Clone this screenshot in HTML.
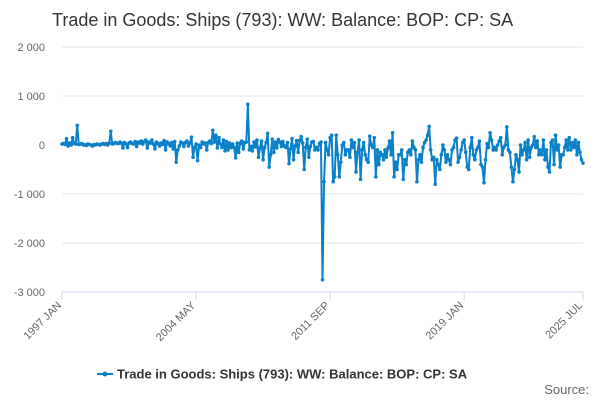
<!DOCTYPE html>
<html><head><meta charset="utf-8"><style>
body{margin:0;background:#fff;font-family:"Liberation Sans",sans-serif}
svg text{font-family:"Liberation Sans",sans-serif}
</style></head><body>
<svg width="600" height="400" id="c">
<text x="52" y="26" font-size="18" fill="#333">Trade in Goods: Ships (793): WW: Balance: BOP: CP: SA</text>
<g id="grid"></g><g id="ax"></g><g id="ser"></g>
<g>
<line x1="97" y1="374" x2="113" y2="374" stroke="#0a80c8" stroke-width="2"/>
<circle cx="105" cy="374" r="2.5" fill="#0a80c8"/>
<text x="117" y="378.5" font-size="13" font-weight="bold" fill="#333">Trade in Goods: Ships (793): WW: Balance: BOP: CP: SA</text>
</g>
<text x="589" y="394" font-size="13" fill="#666" text-anchor="end">Source:</text>
</svg>
<script>
const yTicks=[2000,1000,0,-1000,-2000,-3000];
const yTickLabels=["2 000","1 000","0","-1 000","-2 000","-3 000"];
const xTickIdx=[0,88,176,264,342];
const xTickLabels=["1997 JAN","2004 MAY","2011 SEP","2019 JAN","2025 JUL"];
const values=[
20,30,10,130,-20,40,0,150,30,20,400,10,
20,30,0,10,-10,20,10,0,-20,10,0,20,
10,0,20,30,10,30,0,40,280,20,30,50,
40,30,60,40,-60,50,20,-50,40,60,30,20,
70,-30,60,40,80,20,70,100,-60,60,40,100,
20,-80,60,30,-20,40,10,90,-100,60,30,-20,
50,-80,70,-350,-100,-20,60,40,-30,50,80,-20,
40,160,-250,-50,20,-320,0,-50,60,20,40,-100,
50,80,30,300,60,200,-60,150,20,-50,100,-120,
70,-100,40,-50,20,-50,-260,40,-150,40,80,-80,
50,60,830,-100,-30,-120,60,-40,100,-250,-60,80,
-300,-50,50,240,-450,-200,120,-150,60,-60,110,60,
-30,70,-20,-50,50,-380,-80,130,-300,-20,90,-150,
90,170,40,-500,-50,120,-250,-30,60,70,-100,-50,
-100,30,60,-2750,-750,50,-100,-200,150,200,-750,-650,
200,-200,-650,-350,0,50,-200,-100,-100,-250,100,-50,
50,-550,-150,100,-700,-100,50,-200,-300,-350,180,0,
-50,150,-650,-100,-400,-150,-200,-300,-100,-250,-60,80,
-200,250,-650,-350,-500,-200,-200,-100,-700,-300,-400,-150,
-100,-200,80,-50,-100,-750,-300,-200,-350,-50,50,100,
200,380,-100,-300,-250,-800,-300,-400,-500,-200,0,-100,
-350,-200,-300,-400,-100,-50,100,140,-350,-250,-100,50,
100,-150,-450,-500,-50,150,-200,-300,-100,-50,80,-400,
-450,-770,-300,30,-50,250,100,-100,-50,-100,0,80,
150,-200,-50,0,370,-100,-150,-450,-750,-500,-200,-300,
-550,0,-200,-100,50,-300,100,-250,-50,0,170,-50,
80,-200,-100,-200,100,-300,-100,-450,-550,50,100,-400,
200,-100,0,-450,-200,-200,-50,100,-100,150,-100,50,
-50,100,-200,50,-150,-300,-370];
const NS="http://www.w3.org/2000/svg";
const X0=62,X1=583,Y0=292,Y1=47;
const xs=i=>X0+(X1-X0)*i/(values.length-1);
const ys=v=>Y0+(Y1-Y0)*(v+3000)/5000;
function mk(t,a,p){const e=document.createElementNS(NS,t);for(const k in a)e.setAttribute(k,a[k]);p.appendChild(e);return e;}
const grid=document.getElementById('grid'),ax=document.getElementById('ax'),ser=document.getElementById('ser');
yTicks.forEach((v,i)=>{
 if(v>-3000){const l=mk('line',{x1:X0,x2:X1,y1:ys(v),y2:ys(v),stroke:'#e6e6e6'},grid);
 
 }
 const t=mk('text',{x:X0-17,y:ys(v)+4,'font-size':11,fill:'#666','text-anchor':'end'},ax);
 t.textContent=yTickLabels[i];
 
 
});
const axl=mk('line',{x1:X0,x2:X1,y1:Y0,y2:Y0,stroke:'#ccd6eb'},ax);


xTickIdx.forEach((ix,i)=>{
 const x=xs(ix);
 const tk=mk('line',{x1:x,x2:x,y1:Y0,y2:Y0+8,stroke:'#ccd6eb'},ax);
 
 
 const t=mk('text',{x:x,y:Y0+14,'font-size':11,fill:'#666','text-anchor':'end',transform:`rotate(-45 ${x} ${Y0+14})`},ax);
 t.textContent=xTickLabels[i];
 
 
});
const pl=mk('polyline',{points:values.map((v,i)=>xs(i)+','+ys(v)).join(' '),fill:'none',stroke:'#0a80c8','stroke-width':2,'stroke-linejoin':'round'},ser);


values.forEach((v,i)=>{
 const c=mk('circle',{cx:xs(i),cy:ys(v),r:1.8,fill:'#0a80c8'},ser);
 
 
});
</script>
</body></html>
